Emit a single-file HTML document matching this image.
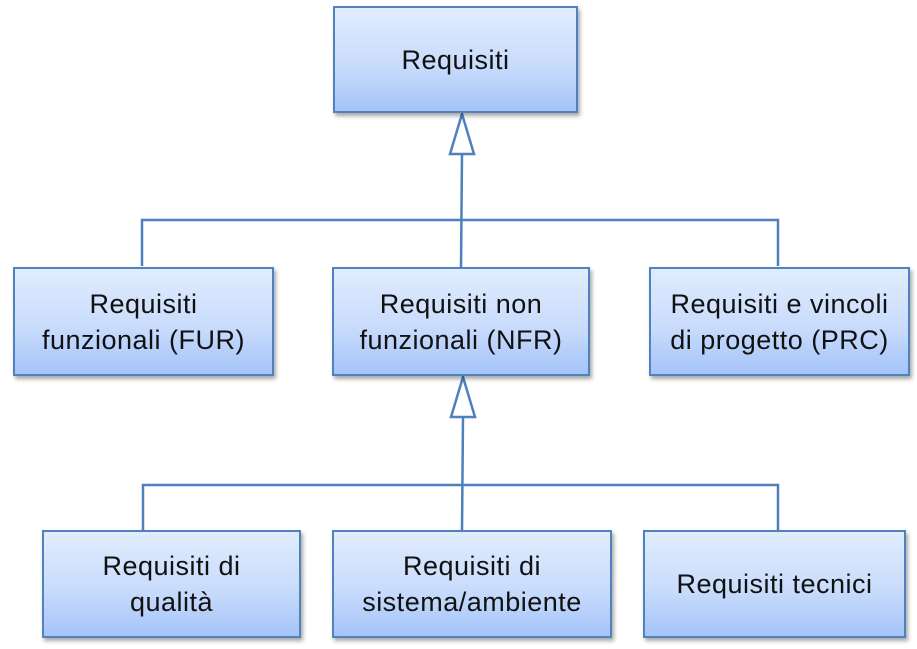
<!DOCTYPE html>
<html><head><meta charset="utf-8"><style>
html,body{margin:0;padding:0;background:#fff;}
body{width:917px;height:649px;position:relative;overflow:hidden;font-family:"Liberation Sans",sans-serif;}
.b{position:absolute;box-sizing:border-box;border:2.5px solid #5182c0;background:linear-gradient(#e1ecfe,#c9dcfc 55%,#a5c4f8);box-shadow:2px 3px 4px rgba(0,0,0,0.35);display:flex;align-items:center;justify-content:center;text-align:center;font-size:27px;letter-spacing:0.5px;line-height:36px;color:#111;white-space:nowrap;}
svg{position:absolute;left:0;top:0;}
</style></head><body>
<svg width="917" height="649">
<g stroke="#4f80bd" stroke-width="2.5" fill="none">
<line x1="462" y1="154" x2="461" y2="267"/>
<polyline points="142,266 142,220 778,220 778,266"/>
<polygon points="462,114 450,154 474,154" fill="#fff"/>
<line x1="463" y1="417" x2="462" y2="530"/>
<polyline points="143,530 143,485 778,485 778,530"/>
<polygon points="463,377 451,417 475,417" fill="#fff"/>
</g>
</svg>
<div class="b" style="left:333px;top:6px;width:245px;height:107px;">Requisiti</div>
<div class="b" style="left:13px;top:267px;width:261px;height:109px;">Requisiti<br>funzionali (FUR)</div>
<div class="b" style="left:332px;top:267px;width:258px;height:109px;">Requisiti non<br>funzionali (NFR)</div>
<div class="b" style="left:649px;top:267px;width:261px;height:109px;">Requisiti e vincoli<br>di progetto (PRC)</div>
<div class="b" style="left:42px;top:530px;width:259px;height:108px;">Requisiti di<br>qualità</div>
<div class="b" style="left:332px;top:530px;width:280px;height:108px;">Requisiti di<br>sistema/ambiente</div>
<div class="b" style="left:643px;top:530px;width:263px;height:108px;">Requisiti tecnici</div>
</body></html>
